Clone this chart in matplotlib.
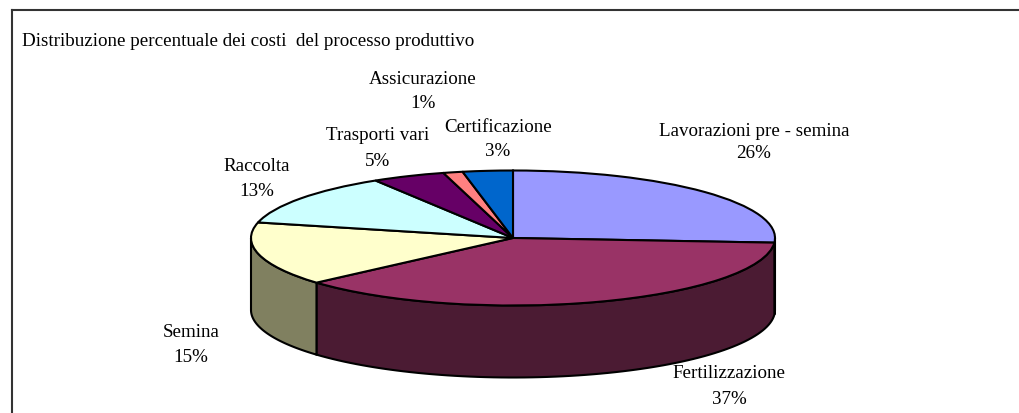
# torta 3D dei costi del processo produttivo
import numpy as np
import matplotlib
matplotlib.use('Agg')
import matplotlib.pyplot as plt
from matplotlib.lines import Line2D

categories = ['Lavorazioni pre - semina', 'Fertilizzazione', 'Semina', 'Raccolta',
              'Trasporti vari', 'Assicurazione', 'Certificazione']
values = [26.1, 37.4, 15.2, 12.51, 4.51, 1.2, 3.08]
top_colors = ['#9999FF', '#993366', '#FFFFCC', '#CCFFFF', '#660066', '#FF8080', '#0066CC']
side_colors = ['#4D4D80', '#4B1B33', '#808060', '#668080', '#330033', '#804040', '#003366']
title = 'Distribuzione percentuale dei costi  del processo produttivo'

# label centres in pixels (first line, second line)
label_pos = [(754, 131, 154), (729, 374, 400), (191, 333, 357), (257, 167, 191),
             (378, 136, 162), (423, 79, 104), (498, 128, 151)]

W, H = 1019, 414
cx, cy, rx, ry = 513, 239, 262, 67.5
depth = 72 / ry

plt.rcParams['font.family'] = ['Liberation Serif', 'DejaVu Serif']
fig = plt.figure(figsize=(W / 100, H / 100), dpi=100, facecolor='white')
ax = fig.add_axes([0, 0, 1, 1])

# side walls, only the part facing the viewer (90..270 deg clockwise from the top)
edges = np.cumsum([0] + values) / sum(values) * 360
for i in range(len(values)):
    a, b = max(edges[i], 90), min(edges[i + 1], 270)
    if a >= b:
        continue
    t = np.radians(np.linspace(a, b, 80))
    x, y = np.sin(t), np.cos(t)
    ax.fill(np.r_[x, x[::-1]], np.r_[y, y[::-1] - depth],
            facecolor=side_colors[i], edgecolor='black', linewidth=1.5, zorder=1)

# top face: pie stretched into an ellipse
wedges, _ = ax.pie(values, colors=top_colors, startangle=90, counterclock=False,
                   radius=1, center=(0, 0),
                   wedgeprops={'edgecolor': 'black', 'linewidth': 1.5})
for w in wedges:
    w.set_zorder(2)

ax.set_aspect('auto')
ax.set_xlim(-cx / rx, (W - cx) / rx)
ax.set_ylim((cy - H) / ry, cy / ry)
ax.axis('off')

fig.text(22 / W, 1 - 41 / H, title, fontsize=13.7, ha='left', va='center', color='black')
for name, val, (px, y1, y2) in zip(categories, values, label_pos):
    fig.text(px / W, 1 - y1 / H, name, fontsize=13.7, ha='center', va='center')
    fig.text(px / W, 1 - y2 / H, f'{val:.0f}%', fontsize=13.7, ha='center', va='center')

# frame: only top and left are visible
fig.add_artist(Line2D([12 / W, 1], [1 - 11 / H, 1 - 11 / H], color='#333333', linewidth=1.5))
fig.add_artist(Line2D([12 / W, 12 / W], [0, 1 - 11 / H], color='#333333', linewidth=1.5))

fig.savefig('out.png', dpi=100)
